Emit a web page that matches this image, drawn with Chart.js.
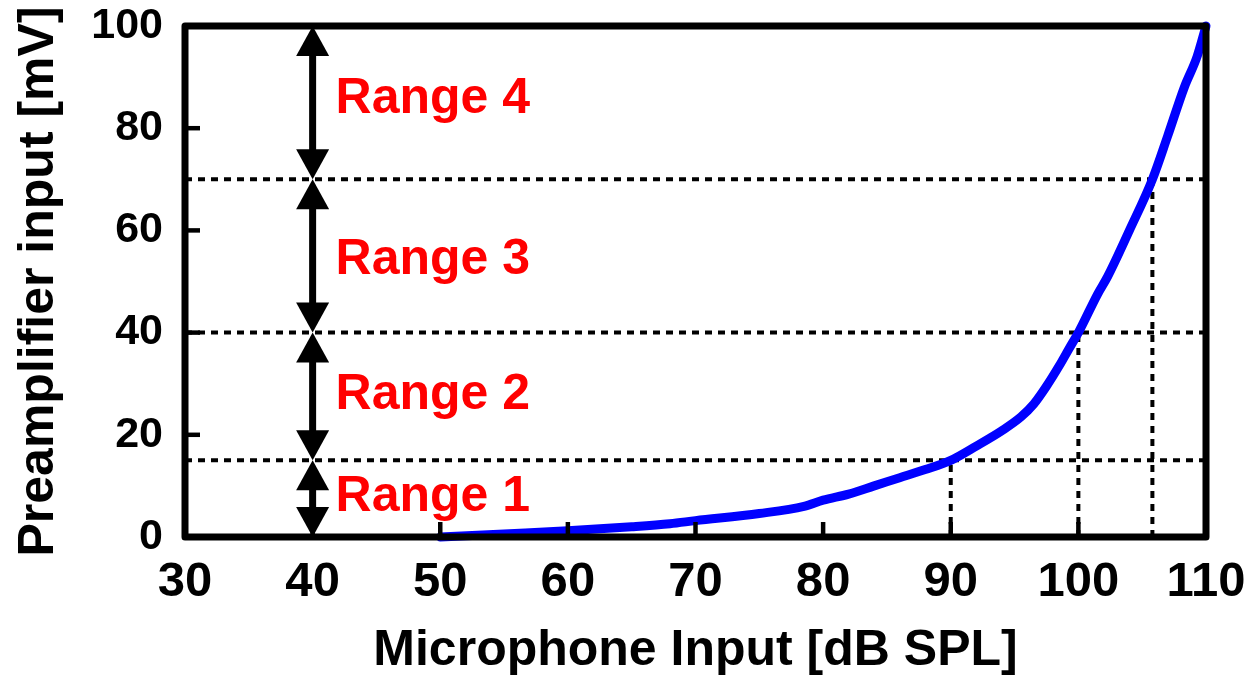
<!DOCTYPE html>
<html><head><meta charset="utf-8">
<script src="https://cdn.jsdelivr.net/npm/chart.js@4/dist/chart.umd.min.js"></script>
<style>html,body{margin:0;padding:0;background:#fff;overflow:hidden}</style>
</head><body>
<canvas id="c" width="1254" height="680" style="display:block;width:1254px;height:680px"></canvas>
<script>
// ---- data ----
const micInput    = [50, 55, 60, 65, 68, 70, 75, 78.5, 80, 82, 84, 86, 88, 90, 92, 94, 95.5, 96.5, 97.5, 98.5, 99.3, 100, 101.5, 102.3, 104, 105.8, 107, 108.3, 109.3, 110];
const preampInput = [0, 0.6, 1.2, 2.0, 2.6, 3.2, 4.6, 6.0, 7.2, 8.4, 10.0, 11.6, 13.2, 15.0, 17.8, 20.8, 23.5, 26.0, 29.5, 33.5, 37, 40, 47.5, 51, 60, 70, 78.5, 88, 94, 100];
const xTicks = [30, 40, 50, 60, 70, 80, 90, 100, 110];
const yTicks = [0, 20, 40, 60, 80, 100];
const rangeBounds = [0, 15, 40, 70, 100];
const rangeNames = ['Range 1', 'Range 2', 'Range 3', 'Range 4'];
const rangeLabelY = [7.7, 27.7, 54.2, 85.6];
const arrowX = 40;
const rangeLabelX = 41.8;
const thresholdY = [15, 40, 70];
const crossX = [90, 100, 105.8];

const FONT = "'Liberation Sans', Arial, Helvetica, sans-serif";

const datasets = [{
  data: micInput.map((v, i) => ({x: v, y: preampInput[i]})),
  borderColor: '#0000ff', borderWidth: 9, pointRadius: 0,
  cubicInterpolationMode: 'monotone',
  borderCapStyle: 'round', borderJoinStyle: 'round', clip: 8
}];
thresholdY.forEach(t => datasets.push({
  data: [{x: xTicks[0], y: t}, {x: xTicks[xTicks.length - 1], y: t}],
  borderColor: '#000', borderWidth: 4, borderDash: [7, 6], pointRadius: 0
}));
crossX.forEach((cx, i) => datasets.push({
  data: [{x: cx, y: 0}, {x: cx, y: thresholdY[i]}],
  borderColor: '#000', borderWidth: 4, borderDash: [7, 6], pointRadius: 0
}));

const overlay = {
  id: 'overlay',
  afterDatasetsDraw(chart) {
    const {ctx, chartArea: a, scales: {x, y}} = chart;
    ctx.save();
    const line = (x1, y1, x2, y2) => { ctx.beginPath(); ctx.moveTo(x1, y1); ctx.lineTo(x2, y2); ctx.stroke(); };
    // inner tick marks
    ctx.strokeStyle = '#000'; ctx.lineWidth = 4.5; ctx.lineCap = 'butt';
    yTicks.slice(1, -1).forEach(v => { const p = y.getPixelForValue(v); line(a.left, p, a.left + 15, p); });
    xTicks.slice(1, -1).forEach(v => { const p = x.getPixelForValue(v); line(p, a.bottom, p, a.bottom - 15); });
    // double-headed arrows
    ctx.fillStyle = '#000';
    const cx = x.getPixelForValue(arrowX);
    const hh = 30, hw = 16.5;
    for (let i = 0; i < rangeBounds.length - 1; i++) {
      const pt = y.getPixelForValue(rangeBounds[i + 1]);
      const pb = y.getPixelForValue(rangeBounds[i]);
      ctx.lineWidth = 7;
      line(cx, pt + hh - 2, cx, pb - hh + 2);
      ctx.beginPath(); ctx.moveTo(cx, pt); ctx.lineTo(cx + hw, pt + hh); ctx.lineTo(cx - hw, pt + hh); ctx.closePath(); ctx.fill();
      ctx.beginPath(); ctx.moveTo(cx, pb); ctx.lineTo(cx + hw, pb - hh); ctx.lineTo(cx - hw, pb - hh); ctx.closePath(); ctx.fill();
    }
    // range labels
    ctx.fillStyle = '#ff0000';
    ctx.font = 'bold 50px ' + FONT;
    ctx.textAlign = 'left'; ctx.textBaseline = 'middle';
    rangeNames.forEach((n, i) => ctx.fillText(n, x.getPixelForValue(rangeLabelX), y.getPixelForValue(rangeLabelY[i])));
    // frame
    ctx.strokeStyle = '#000'; ctx.lineWidth = 7; ctx.lineJoin = 'round';
    ctx.strokeRect(a.left, a.top, a.right - a.left, a.bottom - a.top);
    ctx.restore();
  }
};

new Chart(document.getElementById('c'), {
  type: 'line',
  data: {datasets},
  plugins: [overlay],
  options: {
    responsive: false, animation: false, devicePixelRatio: 1,
    layout: {padding: {top: 26, right: 48, left: 0, bottom: 0}},
    plugins: {legend: {display: false}, tooltip: {enabled: false}},
    scales: {
      x: {
        type: 'linear', min: xTicks[0], max: xTicks[xTicks.length - 1],
        afterBuildTicks: s => { s.ticks = xTicks.map(v => ({value: v})); },
        afterFit: s => { s.height = 143; s.paddingLeft = 0; s.paddingRight = 0; },
        grid: {display: false, drawTicks: false}, border: {display: false},
        ticks: {color: '#000', font: {family: FONT, weight: 'bold', size: 49}, padding: 16, maxRotation: 0, autoSkip: false},
        title: {display: true, text: 'Microphone Input [dB SPL]', color: '#000',
          font: {family: FONT, weight: 'bold', size: 50, lineHeight: 1}, padding: {top: 0, bottom: 4}}
      },
      y: {
        type: 'linear', min: yTicks[0], max: yTicks[yTicks.length - 1],
        afterBuildTicks: s => { s.ticks = yTicks.map(v => ({value: v})); },
        afterFit: s => { s.width = 185; s.paddingTop = 0; s.paddingBottom = 0; },
        grid: {display: false, drawTicks: false}, border: {display: false},
        ticks: {color: '#000', font: {family: FONT, weight: 'bold', size: 43}, padding: 22, autoSkip: false},
        title: {display: true, text: 'Preamplifier input [mV]', color: '#000',
          font: {family: FONT, weight: 'bold', size: 50, lineHeight: 1}, padding: {top: 14, bottom: 0}}
      }
    }
  }
});
</script>
</body></html>
